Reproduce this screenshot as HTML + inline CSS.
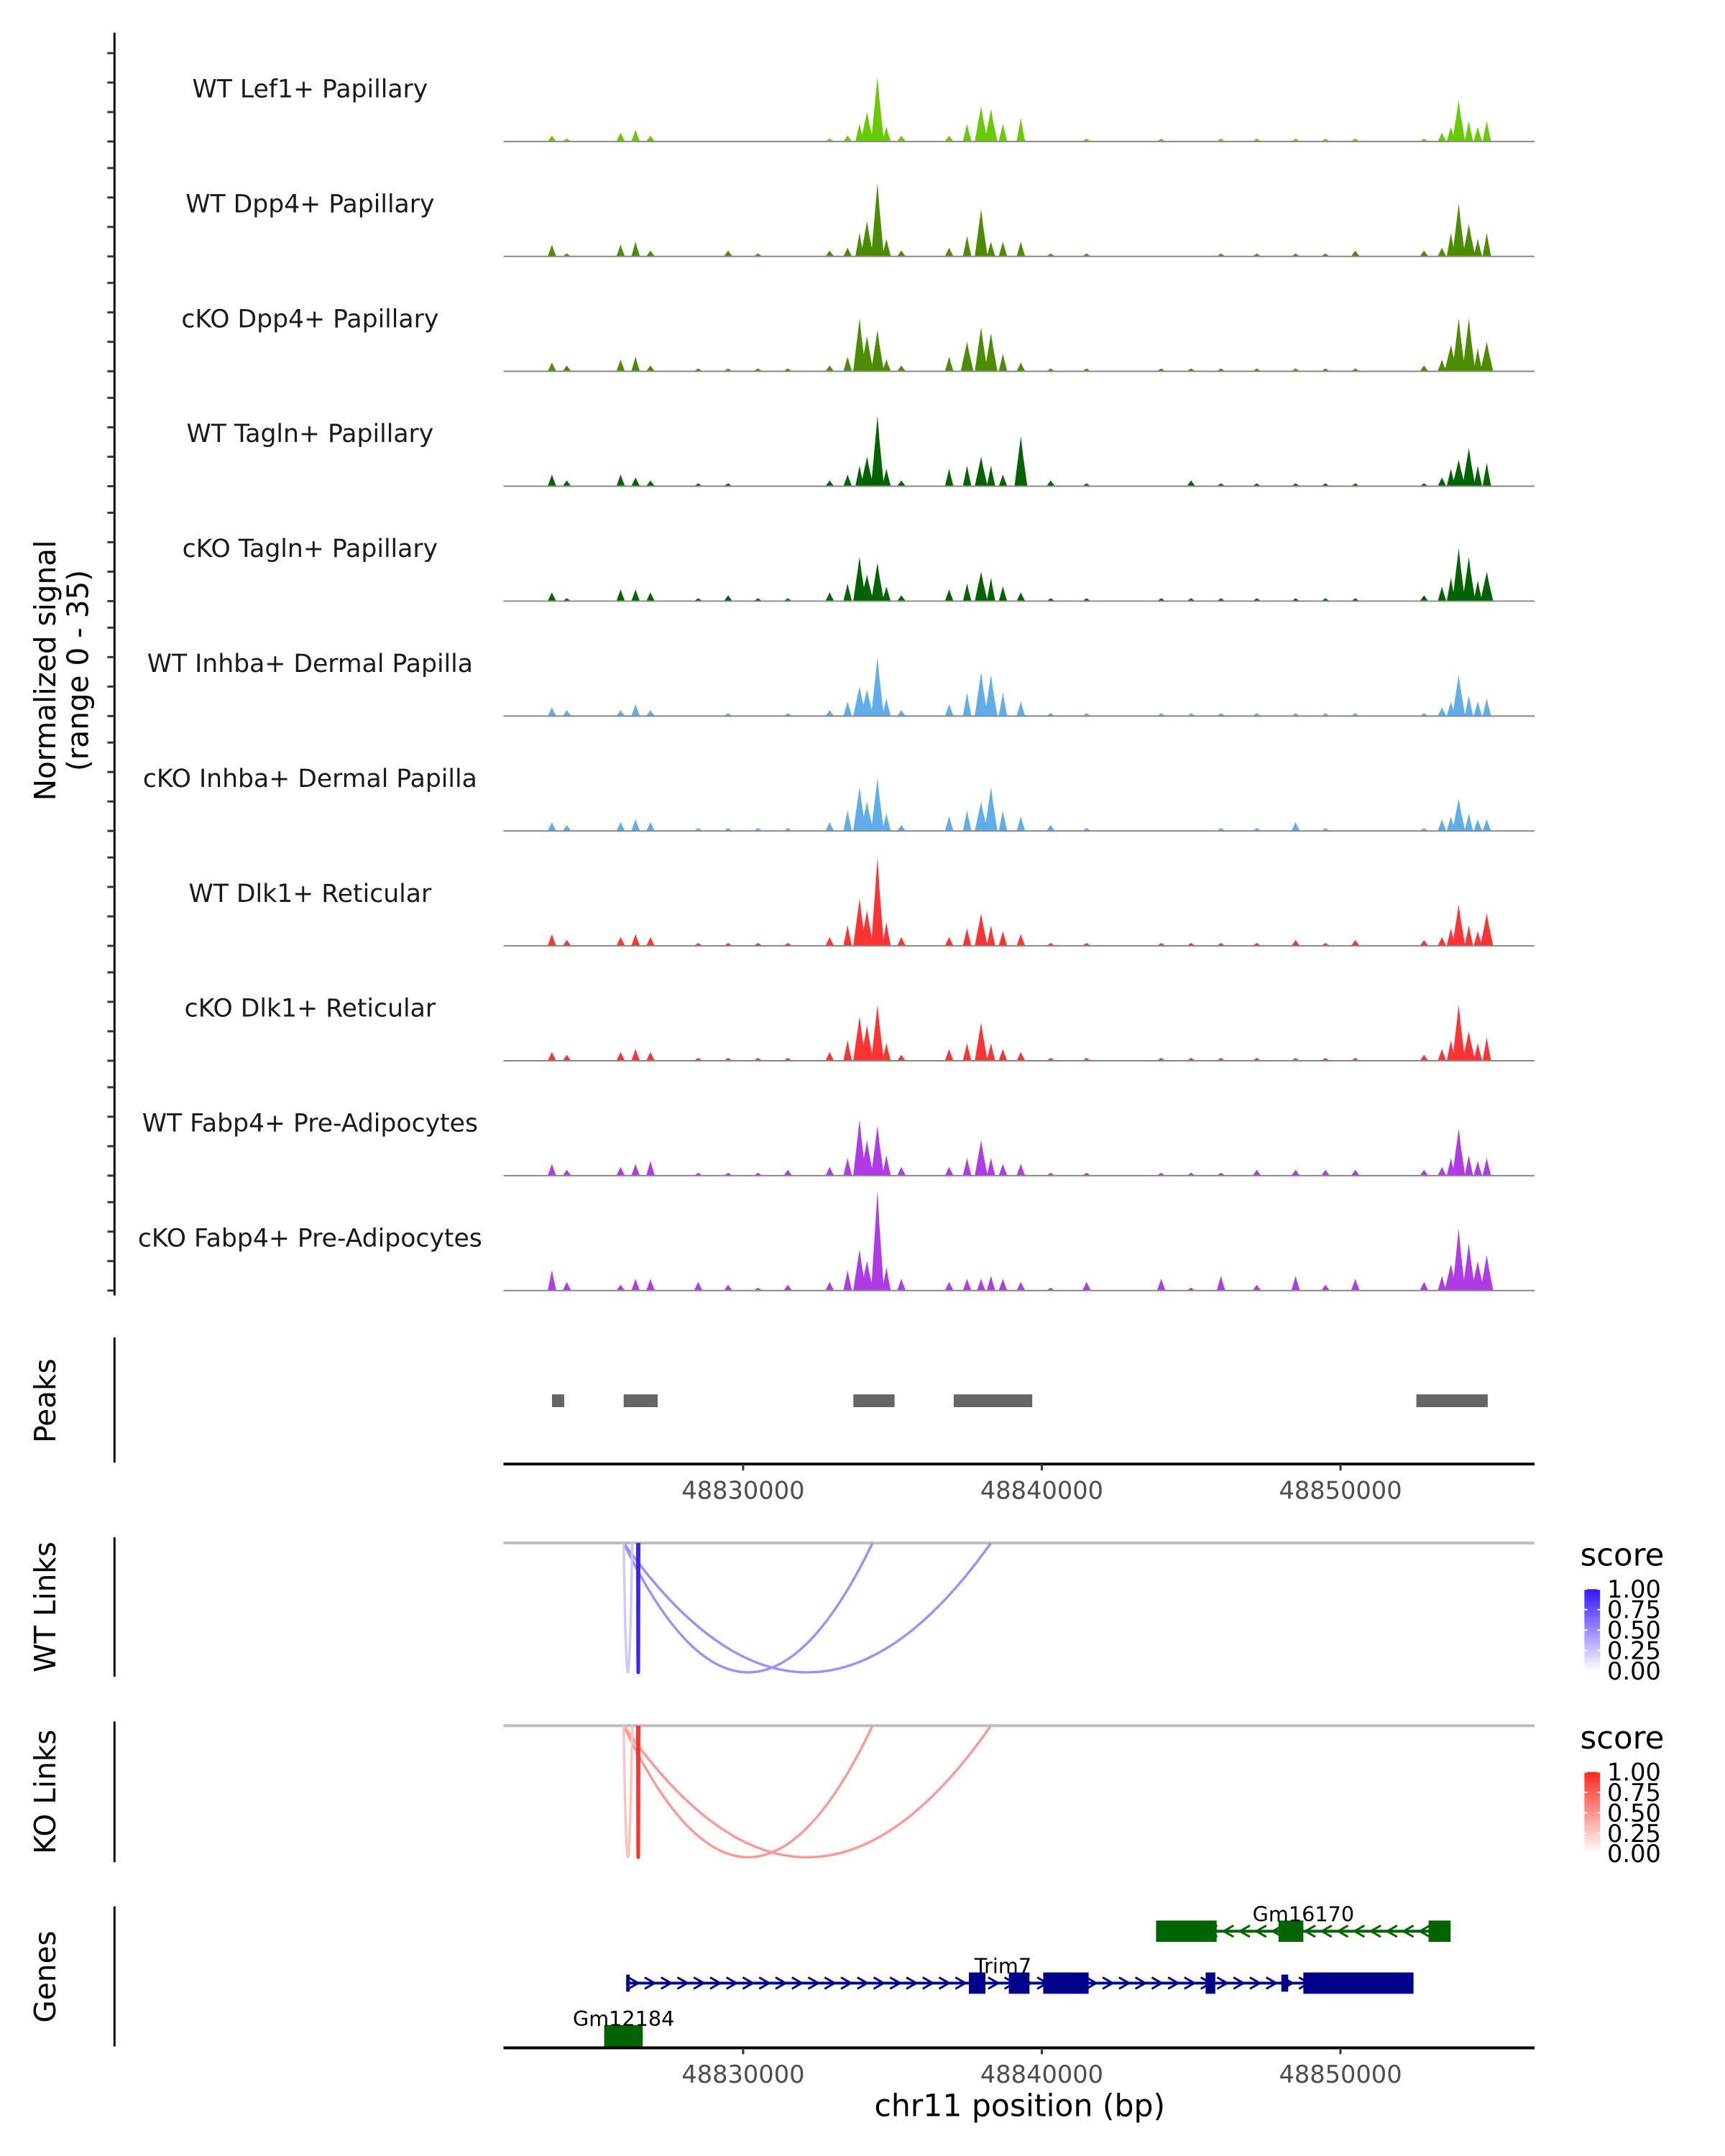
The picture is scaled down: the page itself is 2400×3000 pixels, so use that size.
<!DOCTYPE html>
<html><head><meta charset="utf-8">
<style>
html,body{margin:0;padding:0;background:#fff;}
svg{display:block;font-family:"DejaVu Sans","Liberation Sans",sans-serif;}
</style></head>
<body>
<svg id="chart" width="2400" height="3000" viewBox="0 0 2400 3000" xmlns="http://www.w3.org/2000/svg">
<rect width="2400" height="3000" fill="#fff"/>
<g id="root" transform="scale(0.9894)">
<g id="tracks"></g>
<g id="yaxis"></g>
<text transform="translate(78,943) rotate(-90)" text-anchor="middle" font-size="41" fill="#000">Normalized signal</text>
<text transform="translate(124,943) rotate(-90)" text-anchor="middle" font-size="41" fill="#000">(range 0 - 35)</text>
<g id="peaks"></g>
<g id="links"></g>
<g id="genes"></g>
</g>
</svg>
<script>
// ---------- data ----------
const trackNames = ["WT Lef1+ Papillary","WT Dpp4+ Papillary","cKO Dpp4+ Papillary","WT Tagln+ Papillary","cKO Tagln+ Papillary","WT Inhba+ Dermal Papilla","cKO Inhba+ Dermal Papilla","WT Dlk1+ Reticular","cKO Dlk1+ Reticular","WT Fabp4+ Pre-Adipocytes","cKO Fabp4+ Pre-Adipocytes"];
const trackColors = ["#66cc00","#4c8c00","#4c8c00","#006400","#006400","#5fadea","#5fadea","#ff3333","#ff3333","#b03ae8","#b03ae8"];
// signal positions (kb offset from 48820000)
const sigPos = [3.6,4.1,5.9,6.4,6.9,8.5,9.5,10.5,11.5,20.3,25.0,27.2,29.5,12.9,13.5,13.9,14.15,14.5,14.8,15.3,16.9,17.5,17.97,18.3,18.7,19.3,21.5,24.0,26.0,28.5,30.5,32.8,33.4,33.7,33.96,34.3,34.6,34.9];
const sigLef1WT   = [2,1,3,4,2,0,0,0,0,0,0,1,1,1,2,6,10,22,5,2,2,6,12,11,6,8,1,1,1,1,1,1,3,5,14,7,5,7];
const sigDpp4WT   = [4,1,4,5,2,0,2,1,0,1,0,1,1,2,3,8,12,25,6,2,3,7,16,5,5,5,1,0,1,1,2,2,3,8,18,11,6,8];
const sigDpp4KO   = [3,2,4,5,2,1,1,1,1,1,1,1,1,2,5,18,12,14,4,2,5,10,15,13,6,3,1,1,1,1,1,2,4,9,18,18,8,10];
const sigTaglnWT  = [4,2,4,3,2,1,1,0,0,2,2,1,1,2,4,7,10,24,6,2,6,7,10,7,4,17,1,0,1,1,1,1,3,6,9,13,7,8];
const sigTaglnKO  = [3,1,4,4,3,1,2,1,1,1,1,1,1,3,6,15,9,13,5,2,4,6,10,8,5,3,1,1,1,1,1,2,5,8,18,15,7,10];
const sigInhbaWT  = [3,2,2,4,2,0,1,0,1,1,1,1,1,2,5,10,9,20,6,2,4,8,15,14,8,5,1,1,1,1,1,1,3,5,14,7,5,6];
const sigInhbaKO  = [3,2,3,4,3,1,1,1,1,2,0,1,1,3,7,15,10,18,6,2,5,7,10,15,7,5,1,0,1,3,0,1,4,5,11,6,4,4];
const sigDlk1WT   = [4,2,3,4,3,1,1,1,1,1,1,1,1,3,7,16,12,30,8,3,3,6,11,7,5,4,1,1,1,2,2,2,3,6,14,7,5,11];
const sigDlk1KO   = [3,2,3,4,3,1,1,1,1,1,1,1,1,3,7,15,12,19,6,2,4,6,13,6,4,3,1,1,1,1,1,2,4,7,19,10,6,8];
const sigFabp4WT  = [4,2,3,4,5,1,1,1,2,1,1,2,2,3,6,19,12,17,7,3,3,6,12,6,4,4,1,1,1,2,2,2,3,6,16,7,5,6];
const sigFabp4KO  = [7,3,2,4,4,3,2,1,2,1,1,2,2,3,7,14,10,34,8,4,3,4,4,5,4,3,3,4,5,5,4,3,5,9,21,16,10,12];
const signals = [sigLef1WT,sigDpp4WT,sigDpp4KO,sigTaglnWT,sigTaglnKO,sigInhbaWT,sigInhbaKO,sigDlk1WT,sigDlk1KO,sigFabp4WT,sigFabp4KO];
const xTicks = [48830000,48840000,48850000];
const peakStarts = [48823600,48826000,48833690,48837050,48852540];
const peakEnds   = [48824010,48827140,48835070,48839680,48854930];
const linkStarts = [48826000,48826000,48826000,48826476];
const linkEnds   = [48834333,48838297,48826286,48826500];
const wtScores   = [0.5,0.5,0.25,1.0];
const koScores   = [0.5,0.5,0.3,1.0];
const legendTicks = ["1.00","0.75","0.50","0.25","0.00"];

// ---------- scales ----------
const NS="http://www.w3.org/2000/svg";
const X0=708, X1=2158;
function xs(bp){return 1045+(bp-48830000)*0.042;}
const base0=199, trackStep=161.6, unitPx=145/35;
function mk(tag,attrs,parent){const e=document.createElementNS(NS,tag);for(const k in attrs)e.setAttribute(k,attrs[k]);parent.appendChild(e);return e;}

// ---------- tracks ----------
const tg=document.getElementById('tracks');
signals.forEach((vals,i)=>{
  const by=base0+i*trackStep;
  const g=mk('g',{},tg);
  
  
  const lab=mk('text',{x:436,y:by-62,'text-anchor':'middle','font-size':35,fill:'#1a1a1a'},g);
  lab.textContent=trackNames[i];
  
  
  vals.forEach((v,j)=>{
    if(v<=0)return;
    const bp=48820000+sigPos[j]*1000;
    const cx=xs(bp), hw=v>8?9:6;
    const top=by-v*unitPx;
    const p=mk('polygon',{points:`${cx-hw},${by} ${cx-hw*0.3},${top+v*unitPx*0.3} ${cx},${top} ${cx+hw*0.3},${top+v*unitPx*0.35} ${cx+hw},${by}`,fill:trackColors[i]},g);
    
    
  });
  const bl=mk('line',{x1:X0,x2:X1,y1:by,y2:by,stroke:'#888',"stroke-width":2},g);
  
  
});
// y axis
const ya=document.getElementById('yaxis');
mk('line',{x1:161,x2:161,y1:46,y2:1822,stroke:'#000','stroke-width':3},ya);
for(let i=0;i<signals.length;i++){
  const by=base0+i*trackStep;
  for(let t=0;t<4;t++){
    const y=by-t*10*unitPx;
    mk('line',{x1:151,x2:161,y1:y,y2:y,stroke:'#333','stroke-width':3},ya);
  }
}

// ---------- peaks ----------
const pg=document.getElementById('peaks');
mk('line',{x1:161,x2:161,y1:1881,y2:2057,stroke:'#000','stroke-width':3},pg);
const pt=mk('text',{transform:'translate(78,1970) rotate(-90)','text-anchor':'middle','font-size':41,fill:'#000'},pg);pt.textContent='Peaks';
peakStarts.forEach((s,i)=>{
  const r=mk('rect',{x:xs(s),y:1961,width:xs(peakEnds[i])-xs(s),height:18,fill:'#666'},pg);
  
  
});
function xAxis(y,parent){
  mk('line',{x1:X0,x2:X1,y1:y,y2:y,stroke:'#000','stroke-width':4},parent);
  xTicks.forEach(t=>{
    mk('line',{x1:xs(t),x2:xs(t),y1:y,y2:y+9,stroke:'#333','stroke-width':3},parent);
    const tx=mk('text',{x:xs(t),y:y+49,'text-anchor':'middle','font-size':34,fill:'#4d4d4d'},parent);
    tx.textContent=t;
    
    
  });
}
xAxis(2059,pg);

// ---------- links ----------
const lg=document.getElementById('links');
function mix(c,s){return `rgb(${Math.round(255+(c[0]-255)*s)},${Math.round(255+(c[1]-255)*s)},${Math.round(255+(c[2]-255)*s)})`;}
function linkPanel(top,bottom,axTop,axBot,title,scores,col,name){
  const g=mk('g',{},lg);
  
  
  mk('line',{x1:161,x2:161,y1:axTop,y2:axBot,stroke:'#000','stroke-width':3},g);
  const t=mk('text',{transform:`translate(78,${(axTop+axBot)/2}) rotate(-90)`,'text-anchor':'middle','font-size':41,fill:'#000'},g);t.textContent=title;
  mk('line',{x1:X0,x2:X1,y1:top,y2:top,stroke:'#bebebe','stroke-width':4},g);
  const h=bottom-top;
  linkStarts.forEach((s,i)=>{
    const a=xs(s),b=xs(linkEnds[i]);
    const cy=top+h*2;
    const p=mk('path',{d:`M${a},${top} Q${(a+b)/2},${cy} ${b},${top}`,fill:'none',stroke:mix(col,scores[i]*0.95),'stroke-width':i==3?5:3.5},g);
    
    
  });
  // legend
  const lt=mk('text',{x:2222,y:top+32,'font-size':44,fill:'#000'},g);lt.textContent='score';
  const gid='grad'+name;
  const defs=mk('defs',{},g);
  const gr=mk('linearGradient',{id:gid,x1:0,y1:1,x2:0,y2:0},defs);
  mk('stop',{offset:0,'stop-color':'#fff'},gr);
  mk('stop',{offset:1,'stop-color':mix(col,1)},gr);
  const by0=top+65, by1=top+180;
  mk('rect',{x:2228,y:by0,width:22,height:by1-by0,fill:`url(#${gid})`},g);
  legendTicks.forEach((lab,i)=>{
    const y=by0+i*(by1-by0)/4;
    mk('line',{x1:2228,x2:2232,y1:y,y2:y,stroke:'#fff','stroke-width':2},g);
    mk('line',{x1:2246,x2:2250,y1:y,y2:y,stroke:'#fff','stroke-width':2},g);
    const tx=mk('text',{x:2260,y:y+12,'font-size':34,fill:'#000'},g);tx.textContent=lab;
  });
}
linkPanel(2170,2352,2162,2358,'WT Links',wtScores,[50,20,255],'wt-links');
linkPanel(2427,2612,2421,2619,'KO Links',koScores,[255,40,30],'ko-links');

// ---------- genes ----------
const gg=document.getElementById('genes');
mk('line',{x1:161,x2:161,y1:2681,y2:2878,stroke:'#000','stroke-width':3},gg);
const gt=mk('text',{transform:'translate(78,2780) rotate(-90)','text-anchor':'middle','font-size':41,fill:'#000'},gg);gt.textContent='Genes';
const geneNames=["Gm16170","Trim7","Gm12184"];
const geneStrand=[-1,1,-1];
const geneY=[2716,2789,2863];
const geneColors=["#006400","#00008b","#006400"];
const geneStart=[48843826,48826085,48825348];
const geneEnd=[48853687,48852444,48826638];
const geneExons=[
 [[48843826,48845854],[48847927,48848757],[48852950,48853687]],
 [[48826085,48826200],[48837559,48838112],[48838896,48839587],[48840048,48841568],[48845485,48845808],[48848020,48848250],[48848757,48852444]],
 [[48825348,48826638]]
];
const geneLabelX=[48848757,48838700,48826000];
geneNames.forEach((n,i)=>{
  const g=mk('g',{},gg);
  
  
  const y=geneY[i],c=geneColors[i];
  mk('line',{x1:xs(geneStart[i]),x2:xs(geneEnd[i]),y1:y,y2:y,stroke:c,'stroke-width':4},g);
  for(let x=xs(geneStart[i])+10;x<xs(geneEnd[i])-8;x+=23){
    const d=geneStrand[i]*7;
    mk('polyline',{points:`${x-d},${y-8} ${x+d},${y} ${x-d},${y+8}`,fill:'none',stroke:c,'stroke-width':3},g);
  }
  geneExons[i].forEach(e=>{
    const h=(i==1&&e[1]-e[0]<300)?24:30;
    mk('rect',{x:xs(e[0]),y:y-h/2,width:Math.max(5,xs(e[1])-xs(e[0])),height:h,fill:c},g);
  });
  const tx=mk('text',{x:xs(geneLabelX[i]),y:y-14,'text-anchor':'middle','font-size':29,fill:'#000'},g);tx.textContent=n;
});
xAxis(2880,gg);
const xt=mk('text',{x:1434,y:2976,'text-anchor':'middle','font-size':43,fill:'#000'},gg);xt.textContent='chr11 position (bp)';


</script>
</body></html>
